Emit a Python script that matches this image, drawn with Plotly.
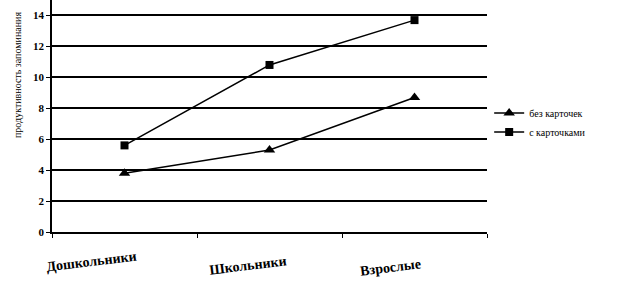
import plotly.graph_objects as go

categories = ["Дошкольники", "Школьники", "Взрослые"]
without_cards = [3.8, 5.3, 8.7]
with_cards = [5.6, 10.8, 13.7]
series_names = ["без карточек", "с карточками"]
y_title = "продуктивность запоминания"
y_ticks = [0, 2, 4, 6, 8, 10, 12, 14]

serif = "Liberation Serif"

fig = go.Figure()
fig.add_trace(go.Scatter(
    x=categories, y=without_cards, name=series_names[0], mode="lines+markers",
    line=dict(color="black", width=1.5),
    marker=dict(symbol="triangle-up", size=10, color="black"),
))
fig.add_trace(go.Scatter(
    x=categories, y=with_cards, name=series_names[1], mode="lines+markers",
    line=dict(color="black", width=1.5),
    marker=dict(symbol="square", size=8, color="black"),
))

label_xshift = [-33, -22, -24]
label_yshift = [-29, -33, -35]
for i, c in enumerate(categories):
    fig.add_annotation(
        x=c, xref="x", y=0, yref="paper", text="<b>%s</b>" % c,
        showarrow=False, textangle=-7, yshift=label_yshift[i], xshift=label_xshift[i],
        xanchor="center", yanchor="middle",
        font=dict(family=serif, size=14, color="black"),
    )

fig.add_annotation(
    x=0, xref="paper", xshift=-35, y=1, yref="paper", yshift=-75,
    xanchor="center", yanchor="middle",
    text=y_title, textangle=-90, showarrow=False,
    font=dict(family=serif, size=10, color="black"),
)

fig.update_layout(
    width=618, height=300,
    margin=dict(l=52, r=131, t=0, b=68),
    paper_bgcolor="white", plot_bgcolor="white",
    showlegend=True,
    legend=dict(
        x=1.005, y=0.575, xanchor="left", yanchor="top",
        font=dict(family=serif, size=10, color="black"),
        itemwidth=30, tracegroupgap=2, bgcolor="rgba(0,0,0,0)",
    ),
    xaxis=dict(
        type="category", range=[-0.5, 2.5], showticklabels=False,
        showline=True, linecolor="black", linewidth=1.5,
        ticks="outside", tickson="boundaries", ticklen=4, tickcolor="black",
        showgrid=False, zeroline=False,
    ),
    yaxis=dict(
        range=[0, 15], tickvals=y_ticks,
        ticktext=["<b>%d</b>" % v for v in y_ticks],
        showline=True, linecolor="black", linewidth=1.5,
        ticks="outside", ticklen=4, tickcolor="black",
        showgrid=True, gridcolor="black", gridwidth=1.5,
        zeroline=False,
        tickfont=dict(family=serif, size=11, color="black"),
    ),
)
fig.write_html("out.html")
